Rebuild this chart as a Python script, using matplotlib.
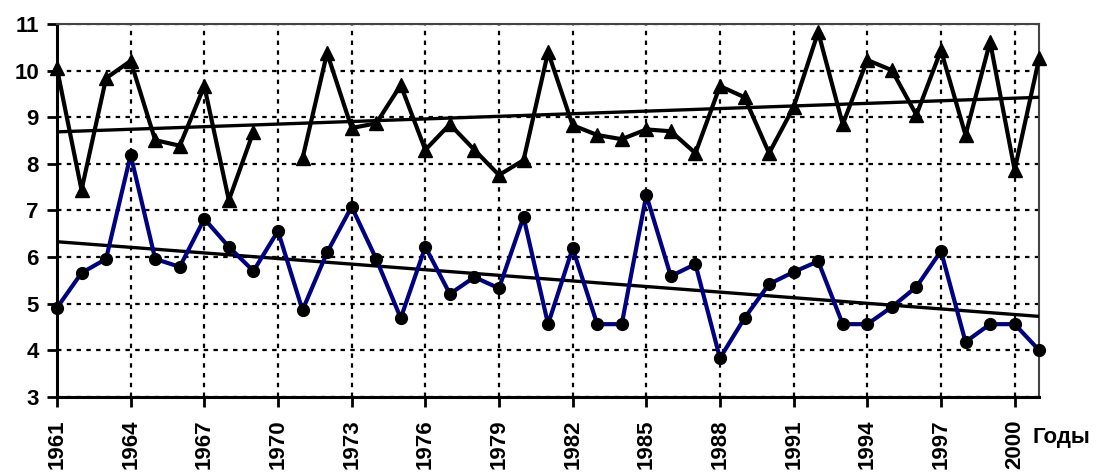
import numpy as np
import matplotlib
matplotlib.use("Agg")
import matplotlib.pyplot as plt

years = np.arange(1961, 2002)

# upper series (triangles), 1970 missing
upper = [10.05, 7.44, 9.84, 10.21, 8.51, 8.39, 9.67, 7.22, 8.69, np.nan,
         8.12, 10.38, 8.77, 8.87, 9.69, 8.30, 8.85, 8.30, 7.76, 8.08,
         10.40, 8.83, 8.62, 8.53, 8.74, 8.70, 8.23, 9.67, 9.43, 8.23,
         9.22, 10.83, 8.85, 10.23, 10.01, 9.05, 10.44, 8.62, 10.62, 7.87,
         10.27]

# lower series (circles)
lower = [4.91, 5.66, 5.96, 8.19, 5.96, 5.79, 6.82, 6.22, 5.70, 6.56,
         4.86, 6.10, 7.08, 5.96, 4.69, 6.22, 5.21, 5.57, 5.33, 6.86,
         4.56, 6.19, 4.56, 4.56, 7.33, 5.59, 5.85, 3.83, 4.69, 5.42,
         5.68, 5.91, 4.56, 4.56, 4.93, 5.36, 6.13, 4.18, 4.56, 4.56,
         4.00]

tick_years = np.arange(1961, 2001, 3)

plt.rcParams['font.family'] = ['Liberation Sans', 'DejaVu Sans']
plt.rcParams['font.weight'] = 'bold'

fig = plt.figure(figsize=(11.02, 4.73), dpi=100)
ax = fig.add_axes([0.0517, 0.161, 0.8913, 0.788])

up = np.array(upper)
lo = np.array(lower)

# trend lines (linear fits)
ok = ~np.isnan(up)
k1, b1 = np.polyfit(years[ok], up[ok], 1)
k2, b2 = np.polyfit(years, lo, 1)
ends = np.array([years[0], years[-1]])
ax.plot(ends, k1 * ends + b1, color='black', lw=2.4, zorder=3)
ax.plot(ends, k2 * ends + b2, color='black', lw=2.4, zorder=3)

ax.plot(years, up, color='black', lw=3, marker='^', ms=10, zorder=4, clip_on=False)
ax.plot(years, lo, color='#000080', lw=3, marker='o', mfc='black', mec='black',
        ms=8.5, zorder=4, clip_on=False)

ax.set_xlim(1961, 2001)
ax.set_ylim(3, 11)
ax.set_yticks(range(3, 12))
ax.set_xticks(tick_years)
ax.set_xticklabels([str(y) for y in tick_years], rotation=90)

ax.grid(True, color='black', lw=1.6, linestyle=(0, (2.0, 2.4)))
ax.set_axisbelow(True)

for s in ['left', 'bottom']:
    ax.spines[s].set_linewidth(2.2)
    ax.spines[s].set_color('black')
for s in ['top', 'right']:
    ax.spines[s].set_linewidth(1.5)
    ax.spines[s].set_color('#444444')

ax.tick_params(axis='both', direction='out', length=7, width=2, labelsize=16)
ax.tick_params(axis='x', pad=9)
ax.tick_params(axis='y', pad=6)
ax.tick_params(top=False, right=False)

fig.text(0.937, 0.074, 'Годы', fontsize=16, fontweight='bold', va='center', ha='left')

fig.savefig('out.png', dpi=100)
